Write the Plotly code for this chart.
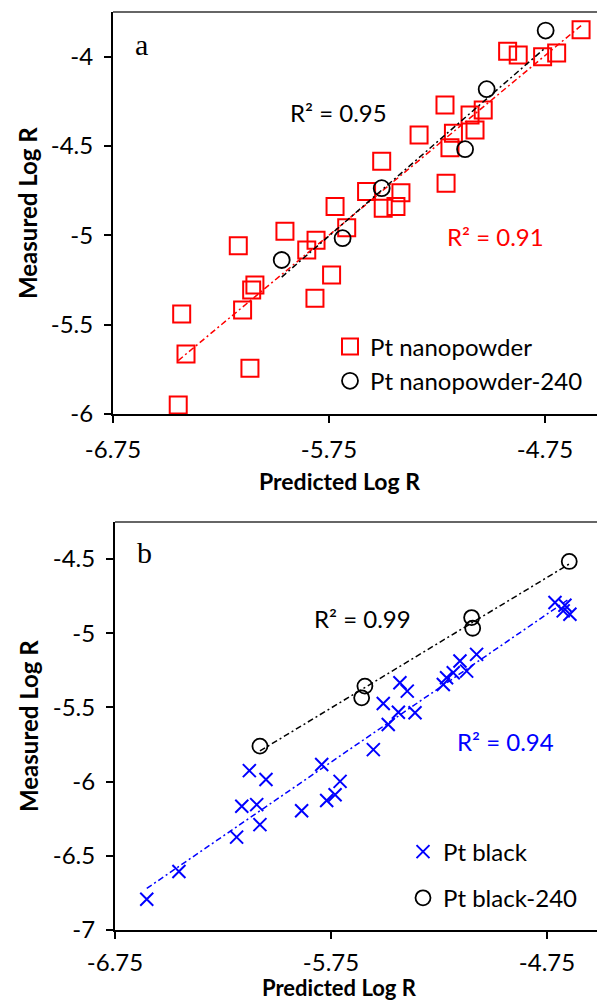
import numpy as np
import plotly.graph_objects as go

# ---------------- data (panel a) ----------------
nano_pred = [-4.583, -4.923, -4.874, -4.761, -4.696, -5.213, -5.097, -5.036, -5.333, -5.174,
             -5.074, -5.190, -5.506, -5.208, -5.576, -5.417, -5.499, -5.440, -5.668, -5.954,
             -5.810, -5.853, -6.170, -5.738, -5.815, -6.093, -6.108, -6.150, -6.432, -6.412,
             -6.116, -6.448, -5.722]
nano_meas = [-3.850, -3.970, -3.990, -4.000, -3.980, -4.270, -4.326, -4.298, -4.438, -4.428,
             -4.410, -4.510, -4.586, -4.708, -4.755, -4.761, -4.848, -4.839, -4.957, -4.977,
             -5.028, -5.082, -5.058, -5.222, -5.352, -5.278, -5.306, -5.418, -5.440, -5.664,
             -5.744, -5.950, -4.839]
nano240_pred = [-4.747, -5.020, -5.120, -5.506, -5.687, -5.969]
nano240_meas = [-3.854, -4.182, -4.518, -4.736, -5.016, -5.138]

# ---------------- data (panel b) ----------------
black_pred = [-6.603, -6.454, -6.187, -6.163, -6.128, -6.094, -6.079, -6.051, -5.886, -5.793,
              -5.770, -5.731, -5.708, -5.554, -5.508, -5.485, -5.438, -5.431, -5.397, -5.361,
              -5.230, -5.215, -5.184, -5.153, -5.122, -5.076, -4.713, -4.667, -4.675, -4.644]
black_meas = [-6.793, -6.606, -6.374, -6.166, -5.926, -6.155, -6.290, -5.986, -6.196, -5.885,
              -6.127, -6.088, -5.998, -5.784, -5.473, -5.615, -5.532, -5.333, -5.390, -5.536,
              -5.345, -5.300, -5.266, -5.187, -5.255, -5.142, -4.793, -4.811, -4.849, -4.872]
black240_pred = [-4.647, -5.099, -5.094, -5.593, -5.608, -6.079]
black240_meas = [-4.516, -4.894, -4.966, -5.356, -5.435, -5.761]

x_ticks = [-6.75, -5.75, -4.75]
x_ticktext = ["-6.75", "-5.75", "-4.75"]
ya_ticks = [-6, -5.5, -5, -4.5, -4]
ya_ticktext = ["-6", "-5.5", "-5", "-4.5", "-4"]
yb_ticks = [-7, -6.5, -6, -5.5, -5, -4.5]
yb_ticktext = ["-7", "-6.5", "-6", "-5.5", "-5", "-4.5"]

r2_labels = ["R² = 0.95", "R² = 0.91", "R² = 0.99", "R² = 0.94"]

W, H = 597, 1002
FONT = "Lato, Carlito, 'Open Sans', sans-serif"
FS = 24
RED = "#FF0000"
BLUE = "#0000FF"
BLACK = "#000000"
DASH = "6px,3px,2px,3px"


def trend(x, y):
    m, b = np.polyfit(x, y, 1)
    xs = np.array([min(x), max(x)])
    return xs, m * xs + b


fig = go.Figure()

# panel a markers
fig.add_trace(go.Scatter(
    x=nano_pred, y=nano_meas, mode="markers", name="Pt nanopowder",
    marker=dict(symbol="square-open", size=17, color=RED, line=dict(width=2, color=RED)),
    xaxis="x", yaxis="y", legend="legend", legendgroup="a1"))
fig.add_trace(go.Scatter(
    x=nano240_pred, y=nano240_meas, mode="markers", name="Pt nanopowder-240",
    marker=dict(symbol="circle-open", size=16, color=BLACK, line=dict(width=1.8, color=BLACK)),
    xaxis="x", yaxis="y", legend="legend", legendgroup="a2"))
tx, ty = trend(nano_pred, nano_meas)
fig.add_trace(go.Scatter(x=tx, y=ty, mode="lines", showlegend=False,
                         line=dict(color=RED, width=1.5, dash=DASH), xaxis="x", yaxis="y"))
tx, ty = trend(nano240_pred, nano240_meas)
fig.add_trace(go.Scatter(x=tx, y=ty, mode="lines", showlegend=False,
                         line=dict(color=BLACK, width=1.5, dash=DASH), xaxis="x", yaxis="y"))

# panel b markers
fig.add_trace(go.Scatter(
    x=black_pred, y=black_meas, mode="markers", name="Pt black",
    marker=dict(symbol="x-thin-open", size=13, color=BLUE, line=dict(width=2, color=BLUE)),
    xaxis="x2", yaxis="y2", legend="legend2", legendgroup="b1"))
fig.add_trace(go.Scatter(
    x=black240_pred, y=black240_meas, mode="markers", name="Pt black-240",
    marker=dict(symbol="circle-open", size=15, color=BLACK, line=dict(width=1.8, color=BLACK)),
    xaxis="x2", yaxis="y2", legend="legend2", legendgroup="b2"))
tx, ty = trend(black_pred, black_meas)
fig.add_trace(go.Scatter(x=tx, y=ty, mode="lines", showlegend=False,
                         line=dict(color=BLUE, width=1.5, dash=DASH), xaxis="x2", yaxis="y2"))
tx, ty = trend(black240_pred, black240_meas)
fig.add_trace(go.Scatter(x=tx, y=ty, mode="lines", showlegend=False,
                         line=dict(color=BLACK, width=1.5, dash=DASH), xaxis="x2", yaxis="y2"))

axis_common = dict(showgrid=False, zeroline=False, showline=True, linewidth=2, linecolor=BLACK,
                   ticks="outside", ticklen=7, tickwidth=1.5, tickcolor=BLACK, automargin=False,
                   tickfont=dict(family=FONT, size=FS, color=BLACK))

fig.update_layout(
    width=W, height=H,
    margin=dict(l=0, r=0, t=0, b=0, pad=0, autoexpand=False),
    paper_bgcolor="white", plot_bgcolor="white",
    showlegend=True,
    xaxis=dict(domain=[113 / W, 1], range=[-6.75, -6.75 + (W - 113) / 216],
               tickvals=x_ticks, ticktext=x_ticktext, anchor="y", ticklabelstandoff=6,
               **axis_common),
    yaxis=dict(domain=[1 - 414 / H, 1 - 12 / H], range=[-6, -3.75],
               tickvals=ya_ticks, ticktext=ya_ticktext, anchor="x", ticklabelstandoff=6,
               **axis_common),
    xaxis2=dict(domain=[115 / W, 1], range=[-6.75, -6.75 + (W - 115) / 216],
                tickvals=x_ticks, ticktext=x_ticktext, anchor="y2", ticklabelstandoff=3,
                **axis_common),
    yaxis2=dict(domain=[1 - 930 / H, 1 - 522 / H], range=[-7, -4.25],
                tickvals=yb_ticks, ticktext=yb_ticktext, anchor="x2", ticklabelstandoff=6,
                **axis_common),
    legend=dict(x=330 / W, y=1 - 364 / H, xanchor="left", yanchor="middle",
                bgcolor="rgba(0,0,0,0)", font=dict(family=FONT, size=FS, color=BLACK),
                tracegroupgap=0, itemwidth=30),
    legend2=dict(x=403 / W, y=1 - 875 / H, xanchor="left", yanchor="middle",
                 bgcolor="rgba(0,0,0,0)", font=dict(family=FONT, size=FS, color=BLACK),
                 tracegroupgap=12, itemwidth=30),
    shapes=[
        dict(type="line", xref="paper", yref="paper", x0=113 / W, x1=1, y0=1 - 12 / H, y1=1 - 12 / H,
             line=dict(color="#333333", width=1.5)),
        dict(type="line", xref="paper", yref="paper", x0=115 / W, x1=1, y0=1 - 522 / H, y1=1 - 522 / H,
             line=dict(color="#333333", width=1.5)),
    ],
)

ann = []
# R² labels
ann.append(dict(x=-5.704, y=-4.315, xref="x", yref="y", text=r2_labels[0], showarrow=False,
                font=dict(family=FONT, size=FS, color=BLACK)))
ann.append(dict(x=-4.977, y=-5.009, xref="x", yref="y", text=r2_labels[1], showarrow=False,
                font=dict(family=FONT, size=FS, color=RED)))
ann.append(dict(x=-5.604, y=-4.899, xref="x2", yref="y2", text=r2_labels[2], showarrow=False,
                font=dict(family=FONT, size=FS, color=BLACK)))
ann.append(dict(x=-4.944, y=-5.730, xref="x2", yref="y2", text=r2_labels[3], showarrow=False,
                font=dict(family=FONT, size=FS, color=BLUE)))
# panel letters
ann.append(dict(x=141 / W, y=1 - 45 / H, xref="paper", yref="paper", text="a", showarrow=False,
                xanchor="center", yanchor="middle",
                font=dict(family="Liberation Serif, DejaVu Serif, serif", size=30, color=BLACK)))
ann.append(dict(x=144 / W, y=1 - 552 / H, xref="paper", yref="paper", text="b", showarrow=False,
                xanchor="center", yanchor="middle",
                font=dict(family="Liberation Serif, DejaVu Serif, serif", size=30, color=BLACK)))
# axis titles
for yc in (213, 726):
    ann.append(dict(x=28 / W, y=1 - yc / H, xref="paper", yref="paper", text="<b>Measured Log R</b>",
                    textangle=-90, showarrow=False, xanchor="center", yanchor="middle",
                    font=dict(family=FONT, size=FS, color=BLACK)))
ann.append(dict(x=340 / W, y=1 - 481 / H, xref="paper", yref="paper", text="<b>Predicted Log R</b>",
                showarrow=False, xanchor="center", yanchor="middle",
                font=dict(family=FONT, size=23, color=BLACK)))
ann.append(dict(x=340 / W, y=0, xref="paper", yref="paper", text="<b>Predicted Log R</b>",
                showarrow=False, xanchor="center", yanchor="bottom", borderpad=0,
                font=dict(family=FONT, size=22, color=BLACK)))
fig.update_layout(annotations=ann)

fig.write_html("out.html")
